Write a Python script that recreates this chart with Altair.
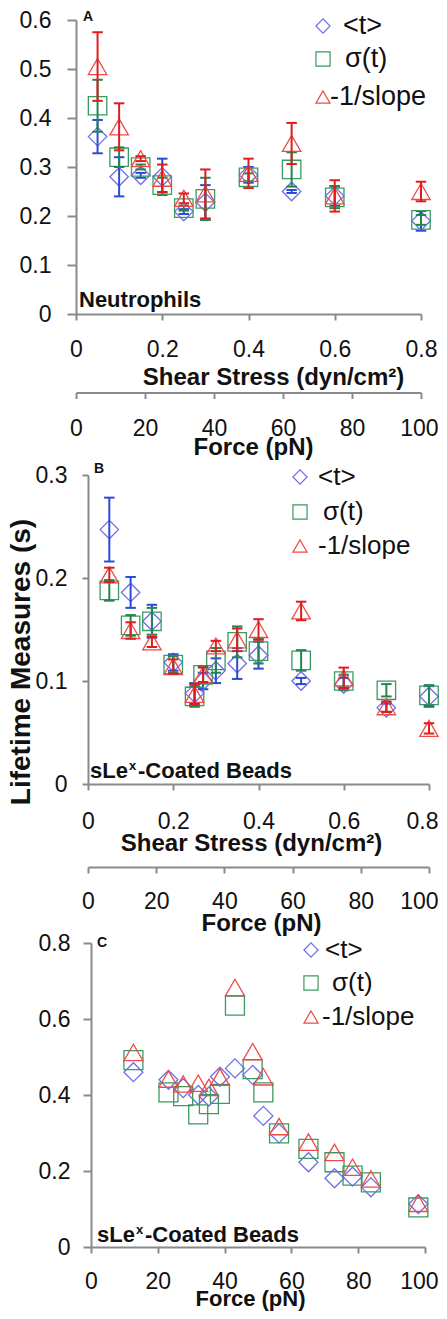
import altair as alt
import pandas as pd

W, H = 431, 1303
FONT = "Arial, 'Liberation Sans', sans-serif"

# ---------------- Panel A : Neutrophils ----------------
a_shear = [0.05, 0.1, 0.15, 0.2, 0.25, 0.3, 0.4, 0.5, 0.6, 0.8]
a_t = [0.362, 0.280, 0.283, 0.280, 0.209, 0.228, 0.284, 0.250, 0.241, 0.190]
a_t_err = [0.034, 0.040, 0.005, 0.037, 0.005, 0.035, 0.016, 0.003, 0.020, 0.020]
a_sig = [0.425, 0.320, 0.300, 0.263, 0.216, 0.235, 0.279, 0.295, 0.238, 0.192]
a_sig_err = [0.053, 0.020, 0.005, 0.015, 0.005, 0.043, 0.008, 0.035, 0.022, 0.010]
a_slope = [0.505, 0.382, 0.317, 0.277, 0.236, 0.245, 0.287, 0.348, 0.241, 0.250]
a_slope_err = [0.070, 0.048, 0.005, 0.028, 0.010, 0.050, 0.030, 0.042, 0.032, 0.020]

# ---------------- Panel B : sLex-coated beads (shear) ----------------
b_shear = [0.05, 0.1, 0.15, 0.2, 0.25, 0.27, 0.3, 0.35, 0.4, 0.5, 0.6, 0.7, 0.8]
b_t = [0.247, 0.186, 0.158, 0.118, 0.088, 0.100, 0.110, 0.117, 0.125, 0.100, 0.097, 0.074, 0.085]
b_t_err = [0.031, 0.015, 0.016, 0.008, 0.010, 0.008, 0.012, 0.015, 0.013, 0.003, 0.006, 0.004, 0.010]
b_sig = [0.188, 0.154, 0.158, 0.116, 0.085, 0.106, 0.120, 0.138, 0.129, 0.120, 0.100, 0.091, 0.086]
b_sig_err = [0.010, 0.010, 0.013, 0.008, 0.010, 0.008, 0.012, 0.015, 0.012, 0.010, 0.006, 0.006, 0.010]
b_slope = [0.203, 0.149, 0.138, 0.114, 0.087, 0.106, 0.134, 0.140, 0.150, 0.168, 0.103, 0.075, 0.054]
b_slope_err = [0.007, 0.008, 0.005, 0.007, 0.010, 0.007, 0.005, 0.011, 0.010, 0.009, 0.010, 0.005, 0.005]

# ---------------- Panel C : sLex-coated beads (force) ----------------
c_force = [12.7, 23.2, 27.6, 32.1, 35.3, 38.6, 43.1, 48.4, 51.6, 56.3, 65.1, 72.9, 78.3, 83.8, 98.0]
c_t = [0.460, 0.440, 0.418, 0.400, 0.396, 0.448, 0.470, 0.453, 0.345, 0.299, 0.223, 0.181, 0.185, 0.157, 0.113]
c_sig = [0.492, 0.407, 0.397, 0.349, 0.376, 0.403, 0.635, 0.468, 0.407, 0.299, 0.258, 0.223, 0.188, 0.170, 0.104]
c_slope = [0.512, 0.442, 0.429, 0.431, 0.420, 0.447, 0.683, 0.514, 0.448, 0.317, 0.276, 0.249, 0.210, 0.179, 0.115]

# ticks / labels
shear_ticks = [0, 0.2, 0.4, 0.6, 0.8]
force_ticks = [0, 20, 40, 60, 80, 100]
a_yticks = [0, 0.1, 0.2, 0.3, 0.4, 0.5, 0.6]
b_yticks = [0, 0.1, 0.2, 0.3]
c_yticks = [0, 0.2, 0.4, 0.6, 0.8]
legend_labels = ["<t>", "\u03c3(t)", "-1/slope"]

SHAPES = ["diamond", "square", "triangle-up"]
MCOL = ["#6e6ee8", "#3a9a62", "#ef4a4a"]
ECOL = ["#2b4bd6", "#23864f", "#e01c1c"]

AX = dict(domainColor="#8a8a8a", domainWidth=2, tickColor="#8a8a8a", tickWidth=2,
          labelFont=FONT, labelFontSize=23, labelColor="#111111", grid=False,
          labelFlush=False, labelOverlap=False, format="~r")


def lin(domain, rng):
    return alt.Scale(domain=domain, range=rng, nice=False, zero=False)


def series(x, y, err, xsc, ysc, k, msize=340):
    df = pd.DataFrame({"x": x, "y": y})
    out = []
    out.append(alt.Chart(df).mark_point(shape=SHAPES[k], size=msize, filled=False,
                                        color=MCOL[k], strokeWidth=1.3, opacity=1).encode(
        x=alt.X("x:Q", scale=xsc, axis=None), y=alt.Y("y:Q", scale=ysc, axis=None)))
    if err is not None:
        df["lo"] = [a - b for a, b in zip(y, err)]
        df["hi"] = [a + b for a, b in zip(y, err)]
        c = alt.Chart(df)
        out.append(c.mark_rule(color=ECOL[k], strokeWidth=2).encode(
            x=alt.X("x:Q", scale=xsc, axis=None),
            y=alt.Y("lo:Q", scale=ysc, axis=None), y2="hi:Q"))
        for f in ["lo", "hi"]:
            out.append(c.mark_point(shape="stroke", size=110, strokeWidth=2, color=ECOL[k],
                                    opacity=1).encode(
                x=alt.X("x:Q", scale=xsc, axis=None),
                y=alt.Y(f + ":Q", scale=ysc, axis=None)))
    return out


def yaxis_layer(ticks, ysc, xpos, tick, pad):
    df = pd.DataFrame({"v": ticks})
    return alt.Chart(df).mark_point(opacity=0).encode(
        y=alt.Y("v:Q", scale=ysc,
                axis=alt.Axis(orient="left", offset=-xpos, values=ticks, title=None,
                              tickSize=tick, labelPadding=pad, **AX)))


def xaxis_layer(ticks, xsc, ypos, pad, title, tx, ty, last_shift=0, tsize=24):
    df = pd.DataFrame({"v": ticks})
    extra = {}
    if last_shift:
        test = "datum.value == %s" % ticks[-1]
        extra = dict(labelAlign={"condition": {"test": test, "value": "right"}, "value": "center"},
                     labelOffset={"condition": {"test": test, "value": last_shift}, "value": 0})
    return alt.Chart(df).mark_point(opacity=0).encode(
        x=alt.X("v:Q", scale=xsc,
                axis=alt.Axis(orient="bottom", offset=ypos - H, values=ticks, title=title,
                              tickSize=6, labelPadding=pad, titleFont=FONT, titleFontSize=tsize,
                              titleFontWeight="bold", titleColor="#111111", titleX=tx, titleY=ty,
                              titleAlign="center", titleBaseline="top", **extra, **AX)))


def text(t, x, y, size, weight="normal", align="left", baseline="alphabetic", angle=0):
    return alt.Chart(pd.DataFrame({"t": [t]})).mark_text(
        font=FONT, fontSize=size, fontWeight=weight, align=align, baseline=baseline,
        angle=angle, color="#111111").encode(x=alt.value(x), y=alt.value(y), text="t:N")


def legend(mx, ys, txs, size):
    out = []
    for k in range(3):
        out.append(alt.Chart(pd.DataFrame({"t": [legend_labels[k]]})).mark_point(
            shape=SHAPES[k], size=200, filled=False, color=MCOL[k], strokeWidth=1.2,
            opacity=1).encode(x=alt.value(mx), y=alt.value(ys[k])))
        out.append(text(legend_labels[k], txs[k], ys[k], size, baseline="middle"))
    return out


layers = []

# ---- Panel A ----
xa = lin([0, 0.8], [68, 413])
fa = lin([0, 100], [68, 413])
ya = lin([0, 0.6], [306, 12])
for k, (y, e) in enumerate([(a_t, a_t_err), (a_sig, a_sig_err), (a_slope, a_slope_err)]):
    layers += series(a_shear, y, e, xa, ya, k)
layers.append(yaxis_layer(a_yticks, ya, 68, 9, 16))
layers.append(xaxis_layer(shear_ticks, xa, 306, 18, "Shear Stress (dyn/cm\u00b2)", 265, 51))
layers.append(xaxis_layer(force_ticks, fa, 384.5, 19, "Force (pN)", 245, 43, last_shift=17))
layers += legend(315, [18, 51, 89], [335, 337, 322], 27)
layers.append(text("A", 75, 13, 14, weight="bold"))
layers.append(text("Neutrophils", 71, 299, 22, weight="bold"))

# ---- Panel B ----
xb = lin([0, 0.8], [80, 421])
fb = lin([0, 100], [80, 421])
yb = lin([0, 0.3], [776, 467])
for k, (y, e) in enumerate([(b_t, b_t_err), (b_sig, b_sig_err), (b_slope, b_slope_err)]):
    layers += series(b_shear, y, e, xb, yb, k)
layers.append(yaxis_layer(b_yticks, yb, 80, 6, 15))
layers.append(xaxis_layer(shear_ticks, xb, 776, 20, "Shear Stress (dyn/cm\u00b2)", 243, 47,
                          last_shift=9))
layers.append(xaxis_layer(force_ticks, fb, 859, 17, "Force (pN)", 253, 44, last_shift=9))
layers += legend(292, [469, 504, 538], [310, 315, 310], 26)
layers.append(text("B", 86, 465, 14, weight="bold"))
layers.append(text("sLe", 82, 770, 22, weight="bold"))
layers.append(text("x", 121, 762, 13, weight="bold"))
layers.append(text("-Coated Beads", 130, 770, 22, weight="bold"))

# ---- Panel C ----
xc = lin([0, 100], [83, 417])
yc = lin([0, 0.8], [1239, 935])
for k, y in enumerate([c_t, c_sig, c_slope]):
    layers += series(c_force, y, None, xc, yc, k, msize=360)
layers.append(yaxis_layer(c_yticks, yc, 83, 8, 13))
layers.append(xaxis_layer(force_ticks, xc, 1239, 17, "Force (pN)", 242, 41, last_shift=13,
                          tsize=22))
layers += legend(303, [942, 975, 1009], [317, 324, 314], 26)
layers.append(text("C", 89, 939, 14, weight="bold"))
layers.append(text("sLe", 89, 1234, 22, weight="bold"))
layers.append(text("x", 128, 1226, 13, weight="bold"))
layers.append(text("-Coated Beads", 137, 1234, 22, weight="bold"))

# ---- shared y title ----
layers.append(text("Lifetime Measures (s)", 14, 654, 28, weight="bold", align="center",
                   baseline="middle", angle=270))

chart = alt.layer(*layers).resolve_scale(x="independent", y="independent").properties(
    width=W, height=H, padding=0, background="white",
    autosize=alt.AutoSizeParams(type="none")
).configure_view(strokeWidth=0)

chart.save("out.html", embed_options={"renderer": "svg", "actions": False})
